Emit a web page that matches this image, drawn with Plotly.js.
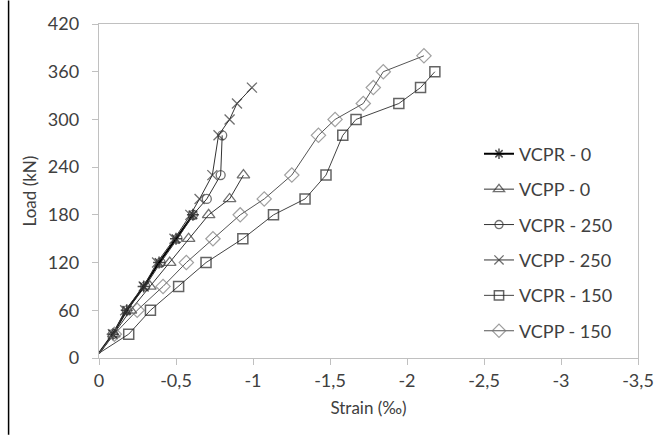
<!DOCTYPE html>
<html>
<head>
<meta charset="utf-8">
<script src="https://cdn.plot.ly/plotly-3.0.1.min.js"></script>
<style>
html,body{margin:0;padding:0;background:#fff;}
#chart{width:656px;height:435px;}
</style>
</head>
<body>
<div id="chart"></div>
<script>
// Data (strain in ‰, load in kN)
const seriesNames = ["VCPR - 0", "VCPP - 0", "VCPR - 250", "VCPP - 250", "VCPR - 150", "VCPP - 150"];

const strainVCPR0 = [0, -0.09, -0.18, -0.29, -0.39, -0.50, -0.61];
const loadVCPR0   = [6, 30, 60, 90, 120, 150, 180];

const strainVCPP0 = [0, -0.096, -0.204, -0.33, -0.459, -0.582, -0.712, -0.848, -0.938];
const loadVCPP0   = [6, 30, 60, 90, 120, 150, 180, 200, 230];

const strainVCPR250 = [0, -0.09, -0.18, -0.30, -0.40, -0.51, -0.61, -0.70, -0.79, -0.80];
const loadVCPR250   = [6, 30, 60, 90, 120, 150, 180, 200, 230, 280];

const strainVCPP250 = [0, -0.09, -0.17, -0.29, -0.377, -0.49, -0.593, -0.653, -0.736, -0.776, -0.848, -0.896, -0.993];
const loadVCPP250   = [6, 30, 60, 90, 120, 150, 180, 200, 230, 280, 300, 320, 340];

const strainVCPR150 = [0, -0.193, -0.334, -0.517, -0.695, -0.934, -1.133, -1.338, -1.474, -1.583, -1.669, -1.947, -2.088, -2.181];
const loadVCPR150   = [6, 30, 60, 90, 120, 150, 180, 200, 230, 280, 300, 320, 340, 360];

const strainVCPP150 = [0, -0.10, -0.248, -0.416, -0.567, -0.74, -0.917, -1.073, -1.252, -1.425, -1.533, -1.716, -1.781, -1.846, -2.11];
const loadVCPP150   = [6, 30, 60, 90, 120, 150, 180, 200, 230, 280, 300, 320, 340, 360, 380];

const xTickVals = [0, -0.5, -1, -1.5, -2, -2.5, -3, -3.5];
const xTickText = ["0", "-0,5", "-1", "-1,5", "-2", "-2,5", "-3", "-3,5"];
const yTickVals = [0, 60, 120, 180, 240, 300, 360, 420];

function sizes(n, s){ const a=[0]; for(let i=1;i<n;i++) a.push(s); return a; }

const styles = [
  {symbol:"asterisk-open", size:10, mcolor:"#000", mw:1.5, lcolor:"#000", lw:2},
  {symbol:"triangle-up-open", size:11, mcolor:"#333", mw:1.3, lcolor:"#333", lw:1},
  {symbol:"circle-open", size:9, mcolor:"#333", mw:1.3, lcolor:"#333", lw:1},
  {symbol:"x-thin-open", size:10, mcolor:"#333", mw:1.3, lcolor:"#333", lw:1},
  {symbol:"square-open", size:10, mcolor:"#222", mw:1.5, lcolor:"#444", lw:1},
  {symbol:"diamond-open", size:11, mcolor:"#777", mw:1.2, lcolor:"#555", lw:1}
];
const xs = [strainVCPR0, strainVCPP0, strainVCPR250, strainVCPP250, strainVCPR150, strainVCPP150];
const ys = [loadVCPR0, loadVCPP0, loadVCPR250, loadVCPP250, loadVCPR150, loadVCPP150];

const traces = seriesNames.map((nm,i)=>({
  type:"scatter", mode:"lines+markers", name:nm, legendgroup:"g"+i,
  x: xs[i], y: ys[i],
  line:{color:styles[i].lcolor, width:styles[i].lw},
  marker:{symbol:styles[i].symbol, size:sizes(xs[i].length, styles[i].size),
          color:styles[i].mcolor, line:{color:styles[i].mcolor, width:styles[i].mw}}
}));

const fontFam = "Lato, 'Open Sans', sans-serif";
const layout = {
  width:656, height:435,
  margin:{l:98.5, r:18, t:22, b:77},
  paper_bgcolor:"#fff", plot_bgcolor:"#fff",
  font:{family:fontFam, color:"#404040", size:17},
  showlegend:true,
  legend:{x:0.705, y:0.666, xanchor:"left", yanchor:"top", traceorder:"grouped",
          tracegroupgap:9, font:{family:fontFam, size:18, color:"#404040"},
          bgcolor:"rgba(0,0,0,0)"},
  xaxis:{range:[0,-3.5], autorange:false, tickvals:xTickVals, ticktext:xTickText,
         showgrid:false, zeroline:false, showline:true, linecolor:"#c0c0c0", linewidth:1.3,
         mirror:true, ticks:"outside", ticklen:6, tickcolor:"#c0c0c0",
         tickfont:{family:fontFam, size:18, color:"#404040"},
         title:{text:"Strain (‰)", font:{family:fontFam, size:17, color:"#404040"}, standoff:12}},
  yaxis:{range:[0,420], autorange:false, tickvals:yTickVals, automargin:true,
         showgrid:false, zeroline:false, showline:true, linecolor:"#c0c0c0", linewidth:1.3,
         mirror:true, ticks:"outside", ticklen:6, tickcolor:"#c0c0c0", ticklabelstandoff:9,
         tickfont:{family:fontFam, size:18, color:"#404040"},
         title:{text:"Load (kN)", font:{family:fontFam, size:17, color:"#404040"}, standoff:6}},
  shapes:[{type:"line", xref:"paper", yref:"paper",
           x0:(8-98.5)/539.5, x1:(8-98.5)/539.5, y0:-0.23, y1:1.07,
           line:{color:"#000", width:1.5}}]
};

Plotly.newPlot("chart", traces, layout, {displayModeBar:false, staticPlot:true});
</script>
</body>
</html>
